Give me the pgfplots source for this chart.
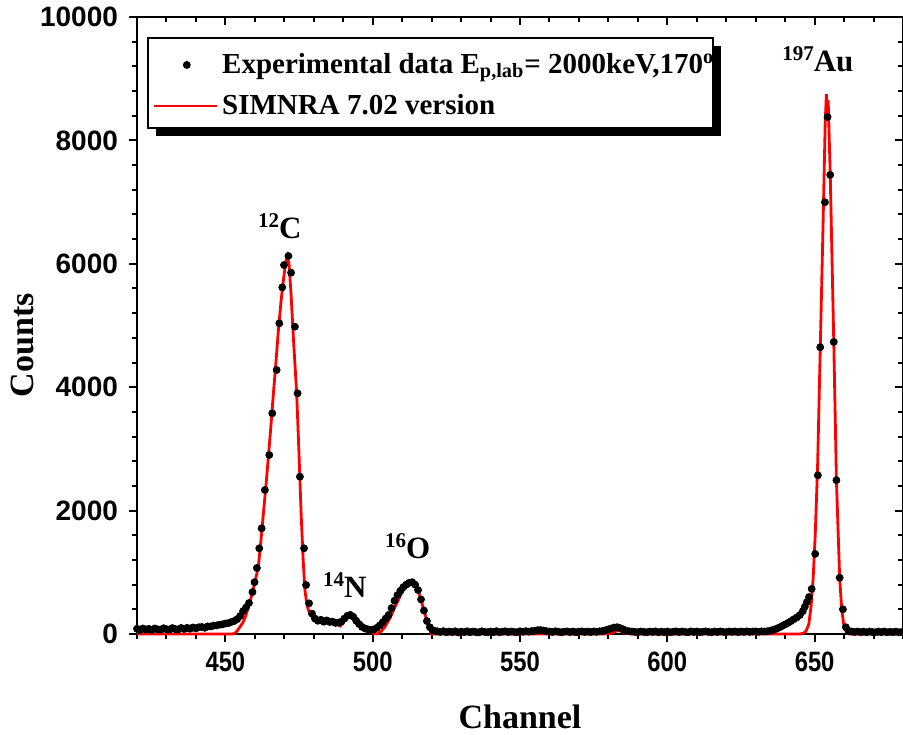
\documentclass[border=0pt]{standalone}
\usepackage{fontspec}
\setmainfont{Liberation Serif}
\newfontfamily\ticksf{Liberation Sans}
\usepackage{pgfplots}
\usepackage{pgfplotstable}
\pgfplotsset{compat=1.18}

\pgfplotstableread{
x y
420 85
421 65
422 90
423 72
424 84
425 66
426 90
427 75
428 68
429 94
430 78
431 70
432 96
433 80
434 74
435 98
436 82
437 100
438 86
439 106
440 92
441 110
442 114
443 100
444 124
445 122
446 136
447 140
448 150
449 156
450 170
451 176
452 195
453 210
454 240
455 290
456 370
457 430
458 502
459.2 680
459.9 840
460.7 1070
461.5 1389
462.3 1713
463.4 2334
464.9 2901
465.9 3577
467.4 4279
468.3 5035
469.3 5618
469.9 5980
471.4 6126
472.3 5856
473.6 4981
474.5 3901
475.3 2550
476.7 1389
477.4 794
478.4 497
479.4 330
480.4 250
481.4 215
482.4 230
483.4 200
484.4 220
485.4 195
486.4 200
487.4 180
488.4 185
489.4 200
490.4 250
491.4 295
492.4 310
493.4 280
494.4 215
495.4 160
496.4 115
497.4 90
498.4 75
499.4 65
500.4 75
501.4 100
502.4 140
503.4 190
504.4 250
505.4 310
506.4 420
507.4 540
508.4 630
509.4 700
510.4 760
511.4 800
512.4 830
513.4 840
514.4 800
515.4 713
516.4 560
517.4 380
518.4 210
519.4 110
520.4 60
521.4 45
522 42
523 32
524 46
525 28
526 40
527 30
528 44
529 26
530 38
531 30
532 44
533 28
534 40
535 32
536 26
537 44
538 34
539 28
540 40
541 30
542 46
543 28
544 38
545 44
546 30
547 40
548 34
549 28
550 44
551 36
552 46
553 38
554 48
555 52
556 62
557 64
558 56
559 46
560 40
561 32
562 44
563 36
564 28
565 38
566 42
567 30
568 40
569 28
570 38
571 42
572 32
573 40
574 30
575 42
576 34
577 44
578 48
579 60
580 75
581 90
582 105
583 110
584 95
585 75
586 55
587 45
588 40
589 34
590 30
591 40
592 34
593 28
594 40
595 32
596 42
597 28
598 38
599 30
600 40
601 28
602 36
603 42
604 30
605 40
606 34
607 28
608 42
609 32
610 40
611 30
612 36
613 42
614 34
615 28
616 40
617 32
618 42
619 34
620 30
621 40
622 34
623 42
624 30
625 40
626 34
627 42
628 34
629 40
630 42
631 34
632 44
633 40
634 45
635 55
636 70
637 85
638 105
639 130
640 155
641 180
642 210
643 240
644 270
645 308
646 370
646.7 443
647.4 520
648.1 600
649.0 731
650.2 1298
651.1 2572
651.9 4648
653.5 6997
654.4 8379
655.3 7441
656.5 4734
657.4 2493
658.5 912
659.6 400
660.6 110
661.6 50
662.6 40
663.6 32
664.6 40
665.6 30
666.6 38
667.6 28
668.6 40
669.6 32
670.6 28
671.6 38
672.6 30
673.6 40
674.6 28
675.6 36
676.6 30
677.6 38
678.6 28
679.6 34
}\expdata

\pgfplotstableread{
x y
420 0
452 0
453 5
454 50
455 118
456 190
456.8 281
457.7 420
458.5 551
459.4 720
460.2 875
461.2 1100
462 1480
462.9 1956
463.8 2420
464.6 2874
465.5 3400
466.3 3901
467.2 4430
468 4927
468.9 5400
469.7 5737
470.4 6000
471 6115
471.6 6000
472.3 5500
473.2 4700
474.2 3901
475 2900
475.7 1961
476.4 1200
477 713
477.6 500
478.1 400
479 300
480.4 238
482.5 225
484.9 211
487 180
489 130
490.5 220
492.3 335
493.8 290
495.1 200
496.5 130
498 65
499.7 15
501.4 0
502.8 40
504.2 118
506 270
507.6 443
509.8 660
511.3 770
512.7 810
513.5 820
514.4 794
515.3 720
516.1 605
517.2 420
518.3 227
519.2 90
520 0
579 0
581 15
582.5 45
583.5 55
584.5 40
586 10
588 0
645 0
646 10
647 40
648 150
648.8 450
649.5 900
650.2 1600
651 2700
651.9 4600
652.8 6500
653.6 8300
654.0 8750
654.3 8350
654.6 8650
655.3 7450
656.5 4734
657.4 2493
658.5 912
659.2 400
659.9 150
660.7 40
661.5 0
680 0
}\simdata

\newcommand\iso[2]{\raisebox{5.5pt}{\fontsize{10.5}{10.5}\selectfont #1}#2}

\begin{document}
\begin{tikzpicture}
\begin{axis}[name=ax,
  width=383pt, height=308.5pt, scale only axis,
  xmin=420, xmax=680, ymin=0, ymax=10000,
  xtick={450,500,550,600,650},
  ytick={0,2000,4000,6000,8000,10000},
  minor xtick={420,430,...,680},
  minor ytick={0,400,...,10000},
  xtick pos=left, ytick pos=left, tick align=outside,
  major tick length=4pt, minor tick length=2.5pt,
  every tick/.style={black, line width=1pt},
  axis line style={line width=1pt},
  scaled ticks=false,
  /pgf/number format/1000 sep={},
  /pgf/number format/assume math mode=true,
  tick label style={font=\ticksf\bfseries\fontsize{14}{14}\selectfont},
  xticklabel style={xscale=0.85, yshift=-1.5pt},
  yticklabel style={xshift=-2pt},
  xlabel={Channel}, ylabel={Counts},
  label style={font=\bfseries\fontsize{17}{17}\selectfont},
  xlabel style={at={(rel axis cs:0.5,0)}, anchor=center, yshift=-41.5pt},
  ylabel style={at={(rel axis cs:0,0.468)}, anchor=center, yshift=57.5pt},
  clip=false,
  legend cell align=left,
  legend style={at={(rel axis cs:0,1)}, anchor=north west,
    xshift=5.5pt, yshift=-10.5pt, draw=none, fill=none,
    font=\bfseries\fontsize{14.5}{16}\selectfont,
    inner xsep=2pt, inner ysep=5.5pt, row sep=5pt},
]
\fill[black] ([xshift=9.5pt,yshift=-14.5pt]rel axis cs:0,1) rectangle ([xshift=292pt,yshift=-59.5pt]rel axis cs:0,1);
\draw[line width=0.6pt, fill=white] ([xshift=5.5pt,yshift=-10.5pt]rel axis cs:0,1) rectangle ([xshift=288pt,yshift=-55.5pt]rel axis cs:0,1);
\addplot[only marks, mark=*, mark size=1.75pt, black,
  legend image code/.code={\path (0,0) (31.5pt,0);\fill[black] (16.5pt,0) circle (1.75pt);}]
  table {\expdata};
\addlegendentry{Experimental data E\textsubscript{p,lab}= 2000keV,170\textsuperscript{o}}
\addplot[red, line width=1.4pt,
  legend image code/.code={\draw[red, line width=1.4pt] (0,0) -- (31.5pt,0);}]
  table {\simdata};
\addlegendentry{SIMNRA 7.02 version}
\node[anchor=base, font=\bfseries\fontsize{15.5}{15.5}\selectfont] at (axis cs:468.5,6418) {\iso{12}{C}};
\node[anchor=base, font=\bfseries\fontsize{15.5}{15.5}\selectfont] at (axis cs:490.5,595) {\iso{14}{N}};
\node[anchor=base, font=\bfseries\fontsize{15.5}{15.5}\selectfont] at (axis cs:511.9,1227) {\iso{16}{O}};
\node[anchor=base, font=\bfseries\fontsize{15.5}{15.5}\selectfont] at (axis cs:651.1,9115) {\iso{197}{Au}};
\end{axis}
\begin{axis}[
  width=383pt, height=308.5pt, scale only axis,
  at={(ax.south west)}, anchor=south west,
  xmin=420, xmax=680, ymin=0, ymax=10000,
  axis x line*=top, axis y line*=right,
  axis line style={line width=1pt, -},
  tick align=inside,
  xtick={450,500,550,600,650},
  ytick={0,2000,4000,6000,8000,10000},
  minor xtick={420,430,...,680},
  minor ytick={0,400,...,10000},
  major tick length=4pt, minor tick length=2.5pt,
  every tick/.style={black, line width=1pt},
  xticklabels={}, yticklabels={},
]
\addplot[draw=none] coordinates {(420,0)};
\end{axis}
\pgfresetboundingbox
\path ([xshift=-68.5pt,yshift=-50pt]ax.south west) rectangle ([yshift=8.5pt]ax.north east);
\end{tikzpicture}
\end{document}
